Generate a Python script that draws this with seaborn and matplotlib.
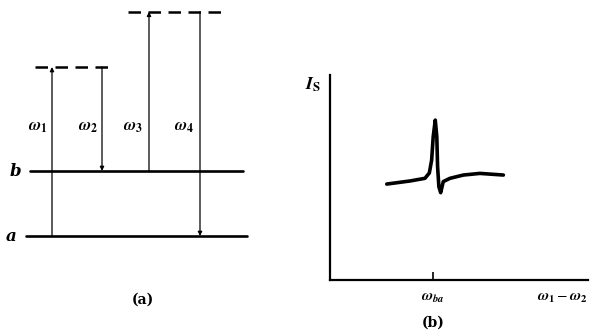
import numpy as np
import pandas as pd
import seaborn as sns
import matplotlib.pyplot as plt

sns.set_theme(style="white")
plt.rcParams["mathtext.fontset"] = "stix"
plt.rcParams["font.family"] = ["DejaVu Serif"]
plt.rcParams["text.color"] = "black"

# (a) energy levels: a, b and the two virtual levels
level_E = [0, 1, 2.6, 3.45]
level_x0 = [26, 30, 35, 128]
level_x1 = [247, 243, 113, 221]
level_dashed = [False, False, True, True]
level_names = ["a", "b"]

# (a) transitions
arrow_x = [52, 102, 149, 200]
arrow_from = [0, 2.6, 1, 3.45]
arrow_to = [2.6, 1, 3.45, 0]
arrow_labels = [r"$\boldsymbol{\omega}_\mathbf{1}$", r"$\boldsymbol{\omega}_\mathbf{2}$",
                r"$\boldsymbol{\omega}_\mathbf{3}$", r"$\boldsymbol{\omega}_\mathbf{4}$"]
label_x = [38, 88, 133, 184]

# (b) signal vs omega1 - omega2
omega_ba = 4.0
curve_x = [2.20, 3.10, 3.68, 3.85, 3.94, 4.00, 4.08, 4.14, 4.17, 4.22, 4.29,
           4.39, 4.65, 5.17, 5.81, 6.72]
curve_y = [4.68, 4.83, 4.96, 5.22, 5.85, 6.99, 7.80, 6.99, 5.53, 4.55, 4.26,
           4.80, 4.96, 5.12, 5.20, 5.12]

fig = plt.figure(figsize=(5.92, 3.35), dpi=100)

# ---- panel (a)
axa = fig.add_axes([0, 0, 260 / 592, 1])
axa.set_xlim(0, 260)
axa.set_ylim(-1.523, 3.631)
axa.axis("off")

for E, x0, x1, d in zip(level_E, level_x0, level_x1, level_dashed):
    if d:
        axa.plot([x0, x1], [E, E], color="black", lw=1.8, ls=(0, (5, 3)))
    else:
        axa.plot([x0, x1], [E, E], color="black", lw=1.9)

for x, e0, e1 in zip(arrow_x, arrow_from, arrow_to):
    axa.annotate("", xy=(x, e1), xytext=(x, e0),
                 arrowprops=dict(arrowstyle="-|>", color="black", lw=0.9,
                                 mutation_scale=6, shrinkA=0, shrinkB=0))

for x, lab in zip(label_x, arrow_labels):
    axa.text(x, 1.68, lab, fontsize=12, ha="center", va="center")

axa.text(15, level_E[1], level_names[1], fontsize=12, style="italic",
         fontweight="bold", ha="center", va="center")
axa.text(11, level_E[0], level_names[0], fontsize=12, style="italic",
         fontweight="bold", ha="center", va="center")
axa.text(143, -0.985, "(a)", fontsize=10, fontweight="bold",
         ha="center", va="center")

# ---- panel (b)
axb = fig.add_axes([330 / 592, 55 / 335, 258 / 592, 205 / 335])
df = pd.DataFrame({"x": curve_x, "y": curve_y})
sns.lineplot(data=df, x="x", y="y", sort=False, color="black", lw=2.6, ax=axb)
axb.set_xlim(0, 10)
axb.set_ylim(0, 10)
for s in ["top", "right"]:
    axb.spines[s].set_visible(False)
for s in ["left", "bottom"]:
    axb.spines[s].set_color("black")
    axb.spines[s].set_linewidth(1.6)
axb.set_xticks([omega_ba])
axb.set_xticklabels([])
axb.set_yticks([])
axb.tick_params(axis="x", direction="in", length=6, width=1.2, color="black",
                bottom=True)
axb.set_xlabel("")
axb.set_ylabel("")

axb.text(-0.66, 9.5, r"$\boldsymbol{I}_\mathbf{S}$", fontsize=13, ha="center",
         va="center", clip_on=False)
axb.text(omega_ba, -0.9, r"$\boldsymbol{\omega}_{\boldsymbol{ba}}$", fontsize=11,
         ha="center", va="center", clip_on=False)
axb.text(9.0, -0.9, r"$\boldsymbol{\omega}_\mathbf{1}-\boldsymbol{\omega}_\mathbf{2}$",
         fontsize=11, ha="center", va="center", clip_on=False)
axb.text(omega_ba, -2.1, "(b)", fontsize=10, fontweight="bold",
         ha="center", va="center", clip_on=False)

fig.savefig("out.png", dpi=100)
